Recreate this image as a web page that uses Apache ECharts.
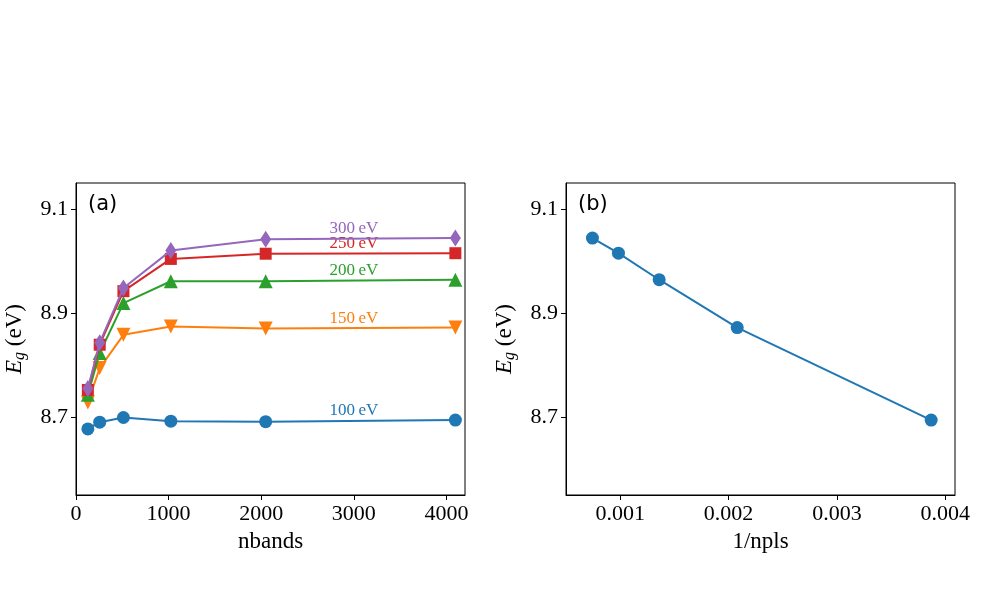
<!DOCTYPE html>
<html>
<head>
<meta charset="utf-8">
<script src="https://cdn.jsdelivr.net/npm/echarts@6/dist/echarts.min.js"></script>
<style>html,body{margin:0;padding:0;background:#fff}#c{width:999px;height:609px}</style>
</head>
<body>
<div id="c"></div>
<script>
// ---- data ----
const nbands = [128, 256, 512, 1024, 2048, 4096];
const e100 = [8.677, 8.690, 8.699, 8.692, 8.691, 8.694];
const e150 = [8.728, 8.794, 8.858, 8.874, 8.870, 8.872];
const e200 = [8.743, 8.823, 8.919, 8.961, 8.961, 8.964];
const e250 = [8.752, 8.839, 8.942, 9.004, 9.014, 9.015];
const e300 = [8.755, 8.843, 8.948, 9.020, 9.042, 9.044];
const seriesNames = ['100\u2009eV', '150\u2009eV', '200\u2009eV', '250\u2009eV', '300\u2009eV'];
const invNpls = [0.000744, 0.000984, 0.00136, 0.00208, 0.00387];
const eConv = [9.044, 9.015, 8.964, 8.872, 8.694];
const xTicksA = [0, 1000, 2000, 3000, 4000];
const xTicksB = [0.001, 0.002, 0.003, 0.004];
const yTicks = [8.7, 8.9, 9.1];
const labelX = 3000;

const colors = ['#1f77b4', '#ff7f0e', '#2ca02c', '#d62728', '#9467bd'];
const symbols = ['circle', 'triangle', 'triangle', 'rect', 'diamond'];
const symRot = [0, 180, 0, 0, 0];
const symSize = [13, 14, 14, 12, [11, 17]];
const allE = [e100, e150, e200, e250, e300];

const serif = '"Liberation Serif", "DejaVu Serif", serif';
const tickFont = {fontFamily: serif, fontSize: 22, color: '#000'};

function yAxis(idx) {
  return {
    gridIndex: idx, type: 'value', min: 8.55, max: 9.15,
    axisLine: {show: true, lineStyle: {color: '#000', width: 1}},
    axisTick: {show: true, inside: false, length: 5, customValues: yTicks, lineStyle: {color: '#000'}},
    axisLabel: Object.assign({customValues: yTicks, margin: 8, formatter: v => v.toFixed(1)}, tickFont),
    splitLine: {show: false},
    name: '{e|E}{g|g}{t| (eV)}',
    nameLocation: 'middle', nameRotate: 90, nameGap: 48,
    nameTextStyle: {
      rich: {
        e: {fontFamily: serif, fontStyle: 'italic', fontSize: 23, color: '#000'},
        g: {fontFamily: serif, fontStyle: 'italic', fontSize: 16, color: '#000', padding: [11, 0, 0, 0]},
        t: {fontFamily: serif, fontSize: 23, color: '#000'}
      }
    }
  };
}

const series = [];
allE.forEach((arr, i) => {
  series.push({
    type: 'line', xAxisIndex: 0, yAxisIndex: 0,
    data: nbands.map((x, j) => [x, arr[j]]),
    color: colors[i],
    lineStyle: {width: 2, color: colors[i]},
    itemStyle: {color: colors[i]},
    symbol: symbols[i], symbolRotate: symRot[i], symbolSize: symSize[i],
    showAllSymbol: true, animation: false, z: 2 + i,
    markPoint: {
      symbol: 'circle', symbolSize: 0, animation: false,
      data: [{coord: [labelX, arr[arr.length - 1]], value: seriesNames[i]}],
      label: {show: true, position: 'top', distance: 1, formatter: seriesNames[i],
        fontFamily: serif, fontSize: 17, color: colors[i]}
    }
  });
});
series.push({
  type: 'line', xAxisIndex: 1, yAxisIndex: 1,
  data: invNpls.map((x, j) => [x, eConv[j]]),
  lineStyle: {width: 2, color: colors[0]}, itemStyle: {color: colors[0]},
  symbol: 'circle', symbolSize: 13, animation: false
});

const chart = echarts.init(document.getElementById('c'), null, {renderer: 'canvas'});
chart.setOption({
  backgroundColor: '#fff',
  animation: false,
  grid: [
    {left: 76, top: 183, width: 389, height: 312, show: true, borderColor: '#000', borderWidth: 1, backgroundColor: 'transparent'},
    {left: 566, top: 183, width: 389, height: 312, show: true, borderColor: '#000', borderWidth: 1, backgroundColor: 'transparent'}
  ],
  xAxis: [
    {gridIndex: 0, type: 'value', min: 0, max: 4200,
      axisLine: {show: true, lineStyle: {color: '#000'}},
      axisTick: {show: true, length: 5, customValues: xTicksA, lineStyle: {color: '#000'}},
      axisLabel: Object.assign({customValues: xTicksA, margin: 8, formatter: v => String(Math.round(v))}, tickFont),
      splitLine: {show: false},
      name: 'nbands', nameLocation: 'middle', nameGap: 35,
      nameTextStyle: {fontFamily: serif, fontSize: 23, color: '#000'}},
    {gridIndex: 1, type: 'value', min: 0.0005, max: 0.00409,
      axisLine: {show: true, lineStyle: {color: '#000'}},
      axisTick: {show: true, length: 5, customValues: xTicksB, lineStyle: {color: '#000'}},
      axisLabel: Object.assign({customValues: xTicksB, margin: 8, formatter: v => v.toFixed(3)}, tickFont),
      splitLine: {show: false},
      name: '1/npls', nameLocation: 'middle', nameGap: 35,
      nameTextStyle: {fontFamily: serif, fontSize: 23, color: '#000'}}
  ],
  yAxis: [yAxis(0), yAxis(1)],
  graphic: [
    {type: 'text', left: 88, top: 194, style: {text: '(a)', font: '21px "DejaVu Sans"', fill: '#000'}},
    {type: 'text', left: 578, top: 194, style: {text: '(b)', font: '21px "DejaVu Sans"', fill: '#000'}}
  ],
  series: series
});
</script>
</body>
</html>
